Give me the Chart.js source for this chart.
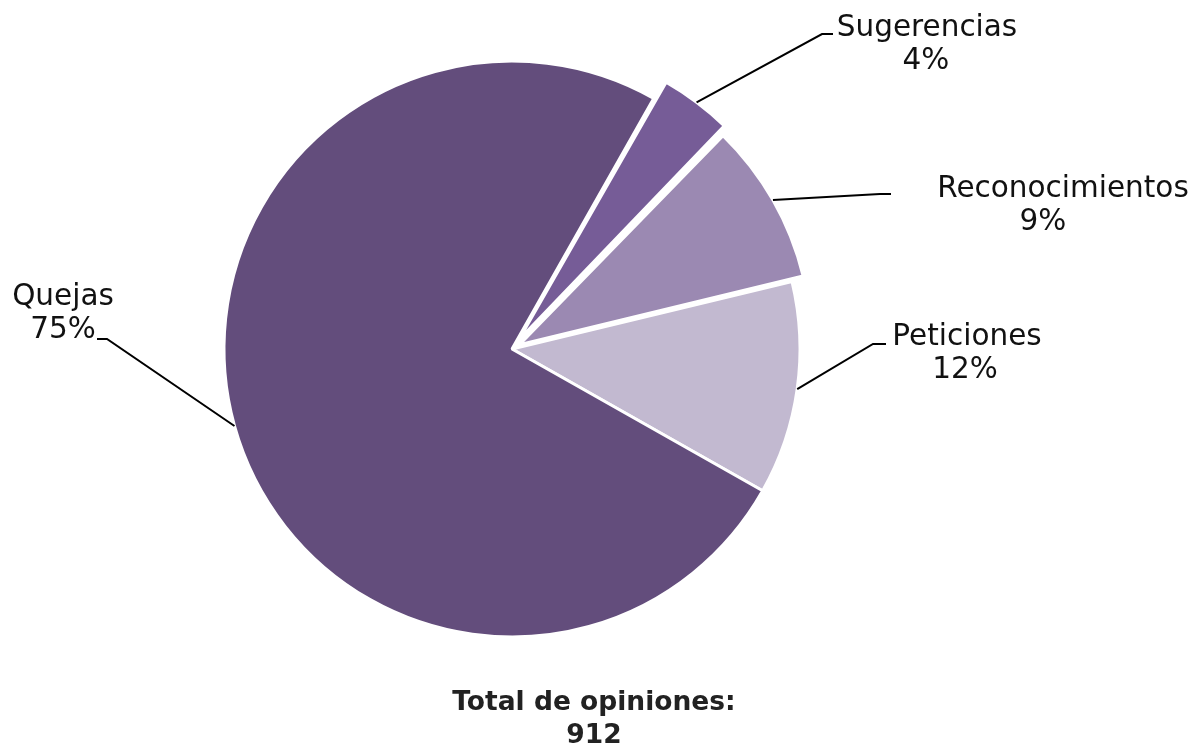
<!DOCTYPE html>
<html>
<head>
<meta charset="utf-8">
<script src="https://cdn.jsdelivr.net/npm/chart.js@4/dist/chart.umd.min.js"></script>
<style>
  html, body { margin: 0; padding: 0; background: #fff; }
  #wrap { width: 1195px; height: 746px; position: relative; }
</style>
</head>
<body>
<div id="wrap"><canvas id="pie"></canvas></div>
<script>
// datos
const categorias = ['Sugerencias', 'Reconocimientos', 'Peticiones', 'Quejas'];
const opiniones = [37, 82, 109, 684];
const porcentajes = ['4%', '9%', '12%', '75%'];
const totalTexto = ['Total de opiniones:', '912'];

const colores = ['#765c97', '#9b89b2', '#c2b9d0', '#634d7c'];
const desplazamientos = [46, 34, 0, 0];

// posiciones de las etiquetas (codo de la linea, final, texto)
const rotulos = [
  { codo: [822, 34], fin: [833, 34], txt: [[927, 36], [926, 69]] },
  { codo: [880, 194], fin: [891, 194], txt: [[1063, 197], [1043, 230]] },
  { codo: [873, 344], fin: [886, 344], txt: [[967, 345], [965, 378]] },
  { codo: [107, 339], fin: [97, 339], txt: [[63, 305], [63, 338]] }
];

const FONT = '"DejaVu Sans", sans-serif';

const rotulosPlugin = {
  id: 'rotulos',
  afterDatasetsDraw(chart) {
    const ctx = chart.ctx;
    const meta = chart.getDatasetMeta(0);
    meta.data.forEach((arc, i) => {
      const p = arc.getProps(['x', 'y', 'startAngle', 'endAngle', 'outerRadius']);
      const mid = (p.startAngle + p.endAngle) / 2;
      // chart.js desplaza offset/4 y agranda el radio segun el angulo
      const off = (arc.options.offset || 0) / 4;
      const fix = 1 - Math.sin(Math.min(Math.PI, p.endAngle - p.startAngle));
      const r = p.outerRadius + off + off * fix;
      const ax = p.x + Math.cos(mid) * r;
      const ay = p.y + Math.sin(mid) * r;
      const c = rotulos[i];
      ctx.save();
      ctx.strokeStyle = '#000';
      ctx.lineWidth = 2;
      ctx.beginPath();
      ctx.moveTo(ax, ay);
      ctx.lineTo(c.codo[0], c.codo[1]);
      ctx.lineTo(c.fin[0], c.fin[1]);
      ctx.stroke();
      ctx.fillStyle = '#111';
      ctx.font = '29.5px ' + FONT;
      ctx.textAlign = 'center';
      ctx.textBaseline = 'alphabetic';
      ctx.fillText(categorias[i], c.txt[0][0], c.txt[0][1]);
      ctx.fillText(porcentajes[i], c.txt[1][0], c.txt[1][1]);
      ctx.restore();
    });
    // total
    ctx.save();
    ctx.fillStyle = '#222';
    ctx.font = 'bold 26.5px ' + FONT;
    ctx.textAlign = 'center';
    ctx.fillText(totalTexto[0], 594, 710);
    ctx.fillText(totalTexto[1], 594, 743);
    ctx.restore();
  }
};

new Chart(document.getElementById('pie'), {
  type: 'pie',
  data: {
    labels: categorias,
    datasets: [{
      data: opiniones,
      backgroundColor: colores,
      borderColor: '#ffffff',
      borderWidth: 3,
      offset: desplazamientos,
      hoverOffset: 0
    }]
  },
  options: {
    responsive: true,
    maintainAspectRatio: false,
    animation: false,
    rotation: 29.5,
    radius: 288,
    layout: { padding: { left: 0, right: 171, top: 0, bottom: 48 } },
    plugins: { legend: { display: false }, tooltip: { enabled: false } }
  },
  plugins: [rotulosPlugin]
});
</script>
</body>
</html>
